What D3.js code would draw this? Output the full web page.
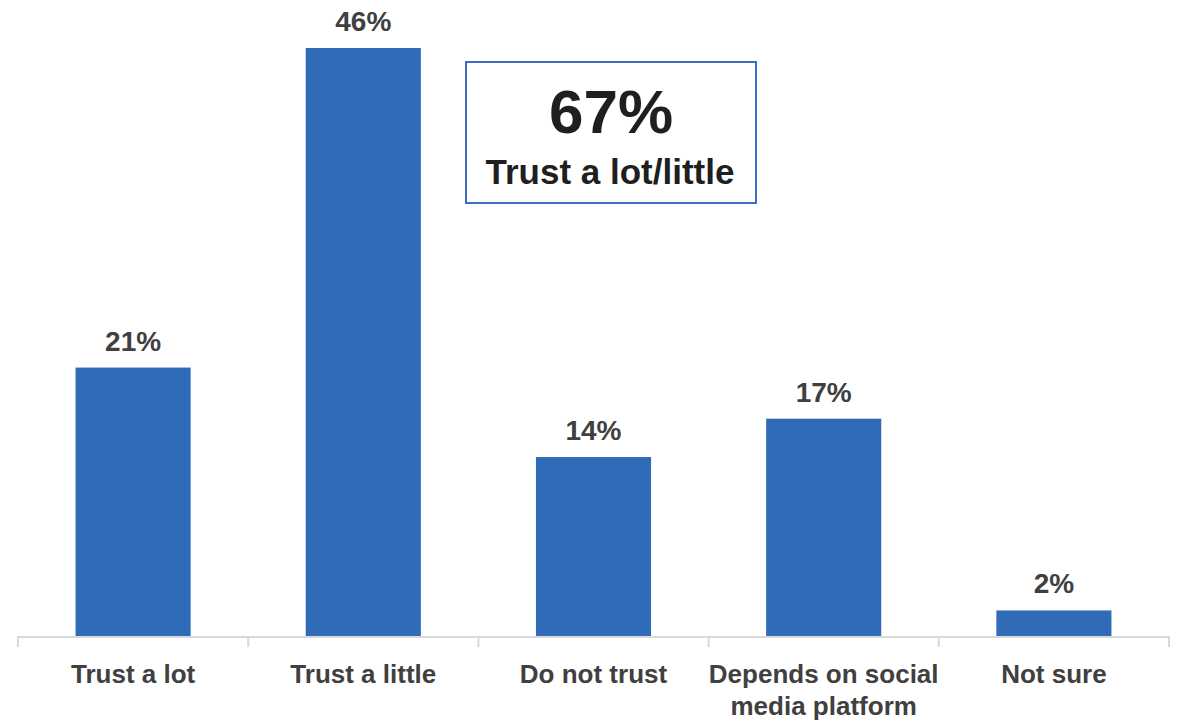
<!DOCTYPE html>
<html>
<head>
<meta charset="utf-8">
<script src="https://cdn.jsdelivr.net/npm/d3@7"></script>
<style>
  html, body { margin: 0; padding: 0; background: #fff; }
  svg { display: block; }
</style>
</head>
<body>
<svg id="chart" width="1180" height="722"></svg>
<script>
const categories = [["Trust a lot"], ["Trust a little"], ["Do not trust"], ["Depends on social", "media platform"], ["Not sure"]];
const values = [21, 46, 14, 17, 2];
const valueLabels = ["21%", "46%", "14%", "17%", "2%"];
const calloutValue = "67%";
const calloutText = "Trust a lot/little";

const W = 1180, H = 722;
const svg = d3.select("#chart");
const keys = categories.map(c => c.join(" "));

const x = d3.scaleBand().domain(keys).range([18, 1169]).paddingInner(0.5).paddingOuter(0.25);
const y = d3.scaleLinear().domain([0, 46]).range([636, 48]);

const font = "'Liberation Sans', Arial, sans-serif";

// bars
svg.selectAll("rect.bar").data(values).enter().append("rect")
  .attr("class", "bar")
  .attr("x", (d, i) => x(keys[i]))
  .attr("y", d => y(d))
  .attr("width", x.bandwidth())
  .attr("height", d => y(0) - y(d))
  .attr("fill", "#2f6bb7");

// axis line and ticks
const step = x.step();
const bounds = keys.map(k => x(k) - step * 0.25).concat([x(keys[keys.length - 1]) + x.bandwidth() + step * 0.25]);
svg.append("line")
  .attr("x1", bounds[0]).attr("x2", bounds[bounds.length - 1])
  .attr("y1", y(0) + 1).attr("y2", y(0) + 1)
  .attr("stroke", "#d9d9d9").attr("stroke-width", 2);
svg.selectAll("line.tick").data(bounds).enter().append("line")
  .attr("class", "tick")
  .attr("x1", d => d).attr("x2", d => d)
  .attr("y1", y(0)).attr("y2", y(0) + 11)
  .attr("stroke", "#d9d9d9").attr("stroke-width", 2);

// value labels
svg.selectAll("text.val").data(values).enter().append("text")
  .attr("class", "val")
  .attr("x", (d, i) => x(keys[i]) + x.bandwidth() / 2)
  .attr("y", d => y(d) - 17)
  .attr("text-anchor", "middle")
  .attr("font-family", font).attr("font-weight", "bold").attr("font-size", 28)
  .attr("fill", "#404040")
  .text((d, i) => valueLabels[i]);

// category labels
const cat = svg.selectAll("text.cat").data(categories).enter().append("text")
  .attr("class", "cat")
  .attr("x", (d, i) => x(keys[i]) + x.bandwidth() / 2)
  .attr("y", 683)
  .attr("text-anchor", "middle")
  .attr("font-family", font).attr("font-weight", "bold").attr("font-size", 26)
  .attr("fill", "#404040");
cat.each(function(d, i) {
  const t = d3.select(this);
  d.forEach((line, j) => {
    t.append("tspan")
      .attr("x", x(keys[i]) + x.bandwidth() / 2)
      .attr("dy", j === 0 ? 0 : 32)
      .text(line);
  });
});

// callout box
const box = svg.append("g");
box.append("rect")
  .attr("x", 466).attr("y", 62).attr("width", 290).attr("height", 141)
  .attr("fill", "#fff").attr("stroke", "#3a70c0").attr("stroke-width", 2);
box.append("text")
  .attr("x", 611).attr("y", 133)
  .attr("text-anchor", "middle")
  .attr("font-family", font).attr("font-weight", "bold").attr("font-size", 62)
  .attr("fill", "#1f1f1f")
  .text(calloutValue);
box.append("text")
  .attr("x", 610).attr("y", 184)
  .attr("text-anchor", "middle")
  .attr("font-family", font).attr("font-weight", "bold").attr("font-size", 35)
  .attr("fill", "#1f1f1f")
  .text(calloutText);
</script>
</body>
</html>
